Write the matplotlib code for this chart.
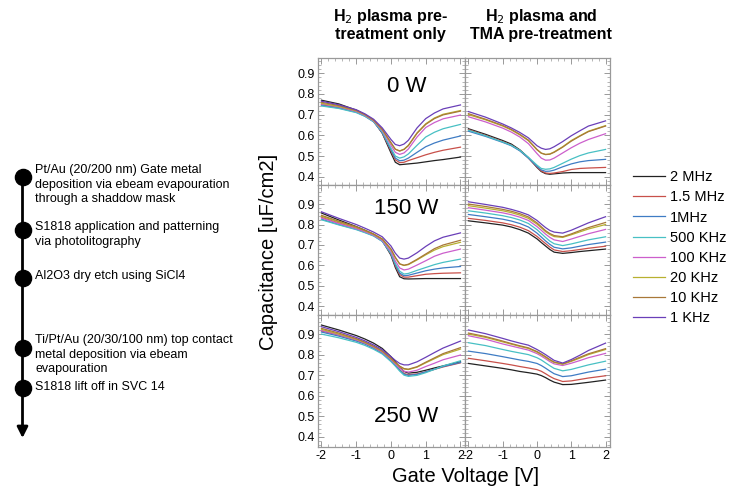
import numpy as np
import matplotlib
matplotlib.use('Agg')
import matplotlib.pyplot as plt
from matplotlib.ticker import MultipleLocator

plt.rcParams['font.family'] = ['Liberation Sans', 'DejaVu Sans']
plt.rcParams['axes.unicode_minus'] = False

# Gate voltage sample points
gate_v = [-2, -1.5, -1, -0.75, -0.5, -0.25, 0, 0.125, 0.25, 0.375, 0.5, 0.75, 1, 1.25, 1.5, 2]

freq_labels = ['2 MHz', '1.5 MHz', '1MHz', '500 KHz', '100 KHz', '20 KHz', '10 KHz', '1 KHz']
freq_colors = ['#222222', '#c8504a', '#3f7cc4', '#48c0c4', '#cc5fcc', '#b8b030', '#a87838', '#6a3fb8']

# 0 W, H2 plasma only
cap_0w_h2 = [
    [.770, .752, .722, .700, .670, .610, .515, .470, .458, .460, .462, .466, .472, .478, .483, .495],
    [.748, .735, .714, .695, .667, .612, .525, .482, .468, .470, .478, .492, .506, .518, .528, .543],
    [.745, .732, .712, .693, .666, .613, .530, .490, .477, .480, .490, .518, .545, .563, .577, .597],
    [.742, .730, .710, .692, .666, .616, .538, .500, .490, .496, .510, .552, .592, .615, .632, .653],
    [.752, .738, .716, .697, .670, .623, .552, .518, .508, .515, .534, .592, .638, .662, .680, .698],
    [.755, .740, .719, .700, .673, .628, .563, .533, .525, .533, .552, .612, .656, .684, .702, .720],
    [.760, .744, .721, .701, .674, .629, .565, .533, .524, .532, .550, .610, .653, .681, .699, .717],
    [.765, .748, .724, .704, .678, .636, .580, .556, .550, .558, .576, .636, .681, .708, .728, .747],
]
# 0 W, H2 plasma + TMA
cap_0w_tma = [
    [.632, .605, .575, .558, .530, .492, .445, .425, .415, .412, .414, .418, .420, .420, .420, .420],
    [.628, .600, .570, .553, .527, .490, .447, .428, .418, .416, .418, .425, .435, .440, .442, .445],
    [.620, .595, .566, .550, .525, .490, .450, .433, .426, .427, .432, .448, .462, .472, .478, .484],
    [.625, .598, .568, .552, .528, .494, .456, .440, .436, .438, .445, .465, .485, .502, .515, .532],
    [.690, .665, .635, .616, .592, .560, .512, .490, .480, .481, .490, .515, .540, .562, .580, .608],
    [.700, .675, .645, .626, .602, .574, .530, .514, .508, .510, .520, .545, .575, .598, .620, .647],
    [.705, .678, .648, .629, .605, .577, .532, .514, .507, .509, .518, .543, .572, .596, .618, .645],
    [.715, .688, .655, .636, .614, .588, .550, .538, .532, .535, .545, .570, .598, .622, .645, .670],
]
# 150 W, H2 plasma only
cap_150w_h2 = [
    [.856, .822, .790, .772, .752, .722, .650, .590, .545, .535, .534, .535, .536, .536, .536, .536],
    [.835, .808, .782, .766, .748, .720, .655, .598, .556, .543, .543, .550, .557, .560, .562, .564],
    [.826, .800, .777, .762, .745, .718, .657, .603, .563, .550, .552, .563, .574, .582, .588, .595],
    [.823, .798, .775, .760, .744, .718, .660, .610, .572, .558, .561, .576, .590, .604, .615, .631],
    [.832, .805, .780, .765, .748, .722, .668, .622, .588, .578, .582, .602, .623, .645, .660, .680],
    [.840, .812, .786, .770, .752, .728, .678, .638, .607, .600, .604, .627, .652, .675, .692, .713],
    [.845, .816, .789, .772, .754, .730, .680, .640, .608, .601, .606, .630, .656, .682, .700, .723],
    [.862, .830, .800, .782, .763, .740, .695, .660, .636, .631, .636, .662, .693, .720, .738, .759],
]
# 150 W, H2 plasma + TMA
cap_150w_tma = [
    [.818, .808, .797, .788, .775, .758, .730, .712, .695, .678, .665, .659, .663, .668, .672, .680],
    [.830, .820, .808, .799, .787, .770, .742, .724, .707, .690, .676, .668, .672, .678, .684, .694],
    [.849, .838, .826, .817, .805, .788, .758, .739, .720, .703, .689, .681, .686, .694, .702, .714],
    [.867, .856, .843, .834, .822, .805, .775, .756, .737, .719, .706, .697, .705, .715, .725, .740],
    [.882, .870, .857, .848, .836, .820, .790, .772, .753, .737, .725, .717, .729, .742, .755, .776],
    [.892, .880, .867, .858, .846, .830, .802, .784, .765, .751, .741, .737, .750, .764, .778, .800],
    [.900, .888, .874, .865, .853, .837, .808, .789, .770, .756, .746, .740, .754, .770, .785, .810],
    [.911, .898, .884, .874, .862, .847, .820, .802, .785, .771, .763, .758, .772, .790, .808, .838],
]
# 250 W, H2 plasma only
cap_250w_h2 = [
    [.944, .920, .893, .876, .856, .830, .790, .765, .738, .718, .710, .714, .724, .735, .745, .765],
    [.915, .895, .870, .855, .834, .810, .772, .750, .726, .708, .702, .706, .716, .728, .740, .760],
    [.910, .890, .866, .851, .831, .807, .770, .748, .724, .705, .699, .704, .716, .729, .742, .762],
    [.900, .882, .860, .845, .826, .803, .766, .744, .720, .700, .694, .699, .712, .728, .745, .770],
    [.918, .897, .872, .856, .836, .812, .776, .755, .734, .719, .715, .724, .742, .758, .775, .798],
    [.923, .900, .875, .859, .839, .816, .780, .760, .742, .730, .727, .739, .760, .780, .800, .827],
    [.928, .905, .878, .861, .841, .818, .782, .762, .744, .732, .729, .741, .763, .784, .805, .834],
    [.936, .912, .884, .867, .847, .824, .790, .772, .757, .750, .750, .765, .787, .810, .832, .866],
]
# 250 W, H2 plasma + TMA
cap_250w_tma = [
    [.757, .745, .733, .726, .718, .712, .705, .698, .688, .676, .666, .654, .655, .660, .665, .676],
    [.782, .770, .757, .750, .742, .735, .727, .719, .707, .694, .683, .669, .672, .679, .686, .697],
    [.817, .805, .790, .782, .774, .767, .757, .747, .734, .720, .707, .693, .697, .706, .715, .729],
    [.858, .844, .825, .816, .808, .800, .785, .774, .760, .746, .733, .721, .728, .739, .750, .768],
    [.892, .875, .852, .842, .832, .822, .805, .793, .780, .766, .755, .747, .758, .771, .785, .806],
    [.900, .884, .862, .851, .840, .830, .812, .800, .787, .773, .762, .753, .767, .783, .800, .825],
    [.905, .888, .866, .854, .843, .833, .815, .803, .790, .776, .764, .755, .770, .787, .804, .829],
    [.920, .902, .879, .867, .856, .846, .825, .813, .800, .786, .772, .759, .776, .797, .820, .856],
]

power_labels = ['0 W', '150 W', '250 W']
col_titles = ['H$_2$ plasma pre-\ntreatment only', 'H$_2$ plasma and\nTMA pre-treatment']
panels = [[cap_0w_h2, cap_0w_tma], [cap_150w_h2, cap_150w_tma], [cap_250w_h2, cap_250w_tma]]

steps = [
    'Pt/Au (20/200 nm) Gate metal\ndeposition via ebeam evapouration\nthrough a shaddow mask',
    'S1818 application and patterning\nvia photolitography',
    'Al2O3 dry etch using SiCl4',
    'Ti/Pt/Au (20/30/100 nm) top contact\nmetal deposition via ebeam\nevapouration',
    'S1818 lift off in SVC 14',
]

W, H = 739, 493
fig = plt.figure(figsize=(W / 100, H / 100), dpi=100)


def rect(x0, y0, x1, y1):
    return [x0 / W, 1 - y1 / H, (x1 - x0) / W, (y1 - y0) / H]


col_x = [(318, 465), (465, 610)]
row_y = [(58, 185), (185, 315), (315, 447)]
row_ylim = [(0.36, 0.974), (0.358, 0.993), (0.35, 0.993)]
frame_c = '#999999'

axes = []
for r in range(3):
    for c in range(2):
        ax = fig.add_axes(rect(col_x[c][0], row_y[r][0], col_x[c][1], row_y[r][1]))
        for vals, col in zip(panels[r][c], freq_colors):
            ax.plot(gate_v, vals, color=col, lw=0.9)
        ax.set_xlim(-2.1, 2.13)
        ax.set_ylim(*row_ylim[r])
        ax.xaxis.set_major_locator(MultipleLocator(1))
        ax.xaxis.set_minor_locator(MultipleLocator(0.2))
        ax.yaxis.set_major_locator(MultipleLocator(0.1))
        ax.yaxis.set_minor_locator(MultipleLocator(0.02))
        ax.tick_params(which='both', direction='in', top=True, right=True,
                       color=frame_c, labelsize=9, pad=2)
        ax.tick_params(which='major', length=4, width=0.7)
        ax.tick_params(which='minor', length=2, width=0.5)
        for sp in ax.spines.values():
            sp.set_color(frame_c)
            sp.set_linewidth(0.9)
        if c == 1:
            ax.tick_params(labelleft=False)
        else:
            ax.set_yticks([0.4, 0.5, 0.6, 0.7, 0.8, 0.9])
        if r < 2:
            ax.tick_params(labelbottom=False)
        axes.append(ax)

# overlay axes in pixel coordinates for the process flow and free text
ov = fig.add_axes([0, 0, 1, 1], zorder=10)
ov.set_xlim(0, W)
ov.set_ylim(H, 0)
ov.axis('off')

# power labels
ov.text(407, 87, power_labels[0], fontsize=16, ha='center', va='center')
ov.text(406, 209, power_labels[1], fontsize=16, ha='center', va='center')
ov.text(406, 417, power_labels[2], fontsize=16, ha='center', va='center')

# column titles
ov.text(390, 7, col_titles[0], fontsize=11.5, fontweight='bold', ha='center', va='top',
        linespacing=1.05)
ov.text(541, 7, col_titles[1], fontsize=11.5, fontweight='bold', ha='center', va='top',
        linespacing=1.05)

# axis labels
ov.text(268, 252, 'Capacitance [uF/cm2]', fontsize=14.5, rotation=90, ha='center', va='center')
ov.text(466, 476, 'Gate Voltage [V]', fontsize=14.5, ha='center', va='center')

# legend
fig.legend(axes[0].get_lines(), freq_labels, loc='upper left',
           bbox_to_anchor=(626 / W, 1 - 163 / H), frameon=False, fontsize=10.5,
           handlelength=2.2, handletextpad=0.3, labelspacing=0.42, borderpad=0)

# process flow on the left
ov.annotate('', xy=(22.5, 438), xytext=(22.5, 176),
            arrowprops=dict(arrowstyle='-|>', lw=2, color='black', mutation_scale=16,
                            shrinkA=0, shrinkB=0))
dot_y = [177, 230, 278, 348, 388]
text_y = [164, 221, 270, 334, 381]
ov.scatter([22.5] * len(dot_y), dot_y, s=135, color='black', zorder=3)
for ty, txt in zip(text_y, steps):
    ov.text(35, ty, txt, fontsize=9, ha='left', va='top', linespacing=1.28)

fig.savefig('out.png', dpi=100)
